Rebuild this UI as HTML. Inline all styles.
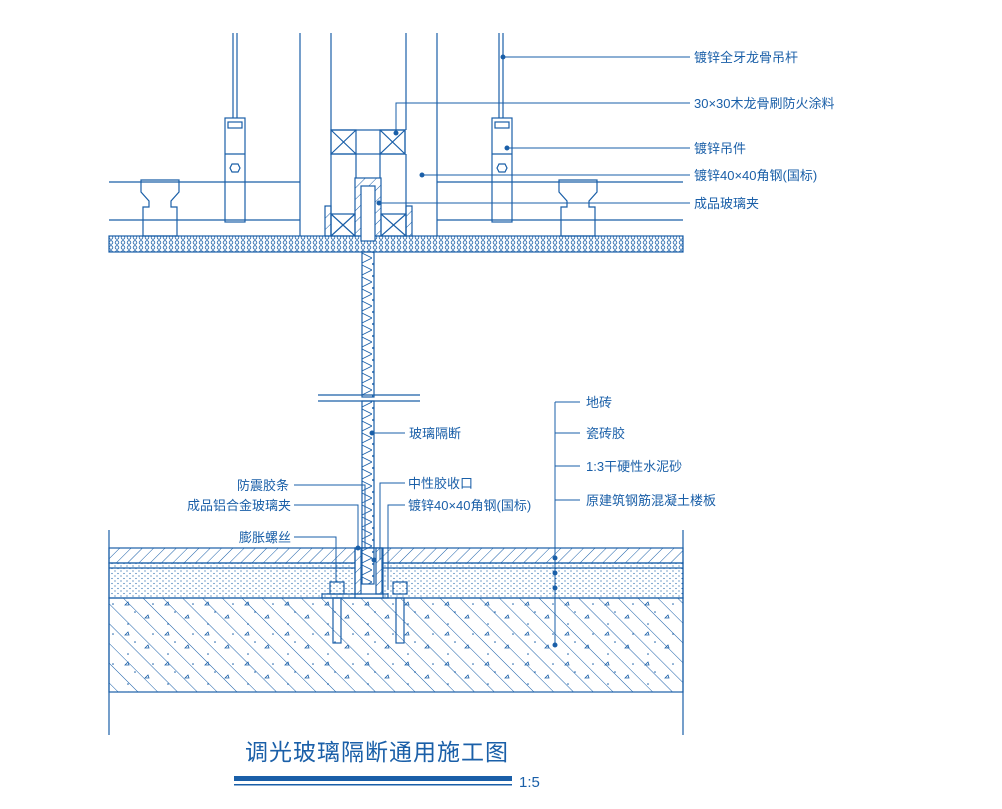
<!DOCTYPE html>
<html><head><meta charset="utf-8"><style>
html,body{margin:0;padding:0;background:#fff}
svg{display:block}
text{font-family:"Liberation Sans","Noto Sans CJK SC",sans-serif;fill:#1a5fa8;font-size:13px}
</style></head><body>
<svg width="1002" height="809" viewBox="0 0 1002 809" xmlns="http://www.w3.org/2000/svg">
<defs>
<pattern id="h45" width="8" height="8" patternUnits="userSpaceOnUse" patternTransform="rotate(45)"><line x1="0" y1="0" x2="0" y2="8" stroke="#1a5fa8" stroke-width="1"/></pattern>
<pattern id="h45b" width="14" height="14" patternUnits="userSpaceOnUse" patternTransform="rotate(-45)"><line x1="0" y1="0" x2="0" y2="14" stroke="#1a5fa8" stroke-width="1"/></pattern>
<pattern id="dots" width="6" height="5" patternUnits="userSpaceOnUse"><circle cx="1" cy="1" r="0.6" fill="#1a5fa8"/><circle cx="4" cy="3.5" r="0.6" fill="#1a5fa8"/></pattern>
<pattern id="cdots" width="40" height="30" patternUnits="userSpaceOnUse"><path d="M5 5l3 -3l1 3zM25 18l3-3l1 3z" fill="none" stroke="#1a5fa8" stroke-width="0.8"/><circle cx="15" cy="12" r="0.8" fill="#1a5fa8"/><circle cx="33" cy="4" r="0.8" fill="#1a5fa8"/><circle cx="8" cy="24" r="0.8" fill="#1a5fa8"/></pattern>
<pattern id="board" width="6" height="5" patternUnits="userSpaceOnUse"><circle cx="3" cy="2.5" r="1.8" fill="none" stroke="#1a5fa8" stroke-width="0.8"/></pattern>
<pattern id="zz" width="12" height="12" patternUnits="userSpaceOnUse"><path d="M0 0L12 6L0 12" fill="none" stroke="#1a5fa8" stroke-width="0.8"/></pattern>
</defs>
<g stroke="#1a5fa8" stroke-width="1.2" fill="none">
<!-- ceiling -->
<line x1="109" y1="182" x2="300" y2="182"/><line x1="437" y1="182" x2="683" y2="182"/>
<line x1="109" y1="220" x2="300" y2="220"/><line x1="437" y1="220" x2="683" y2="220"/>
<rect x="109" y="236" width="574" height="16" fill="url(#board)"/>
<line x1="300" y1="33" x2="300" y2="236"/><line x1="331" y1="33" x2="331" y2="130"/>
<line x1="406" y1="33" x2="406" y2="130"/><line x1="437" y1="33" x2="437" y2="236"/>
<rect x="331" y="130" width="74" height="24"/>
<path d="M331 130h25v24h-25zM331 130l25 24M356 130l-25 24M380 130h25v24h-25zM380 130l25 24M405 130l-25 24"/>
<line x1="331" y1="154" x2="331" y2="236"/><line x1="406" y1="154" x2="406" y2="236"/>
<line x1="356" y1="154" x2="356" y2="178"/><line x1="380" y1="154" x2="380" y2="178"/>
<rect x="355" y="178" width="26" height="58" fill="url(#h45)"/>
<rect x="361" y="186" width="14" height="55" fill="#fff"/>
<rect x="325" y="206" width="6" height="30" fill="url(#h45)"/><rect x="406" y="206" width="6" height="30" fill="url(#h45)"/>
<path d="M331 214h24v22h-24zM331 214l24 22M355 214l-24 22M381 214h25v22h-25zM381 214l25 22M406 214l-25 22"/>
<!-- hangers -->
<line x1="233" y1="33" x2="233" y2="118"/><line x1="237" y1="33" x2="237" y2="118"/>
<rect x="225" y="118" width="20" height="104"/><rect x="228" y="122" width="14" height="6"/>
<line x1="225" y1="154" x2="245" y2="154"/><polygon points="230,168 232,164 238,164 240,168 238,172 232,172"/>
<line x1="499" y1="33" x2="499" y2="118"/><line x1="503" y1="33" x2="503" y2="118"/>
<rect x="492" y="118" width="20" height="104"/><rect x="495" y="122" width="14" height="6"/>
<line x1="492" y1="154" x2="512" y2="154"/><polygon points="497,168 499,164 505,164 507,168 505,172 499,172"/>
<!-- clips -->
<path d="M141 180h38v12l-8 9v6h6v29h-34v-29h6v-6l-8-9z"/>
<path d="M559 180h38v12l-8 9v6h6v29h-34v-29h6v-6l-8-9z"/>
<!-- glass -->
<rect x="362" y="252" width="12" height="145" fill="url(#zz)"/>
<rect x="362" y="401" width="12" height="147" fill="url(#zz)"/>
<line x1="318" y1="395" x2="420" y2="395"/><line x1="318" y1="401" x2="420" y2="401"/>
<!-- floor -->
<line x1="109" y1="530" x2="109" y2="735"/><line x1="683" y1="530" x2="683" y2="735"/>
<rect x="109" y="548" width="574" height="15" fill="url(#h45)"/>
<rect x="109" y="563" width="574" height="35" fill="url(#dots)"/>
<line x1="109" y1="568" x2="683" y2="568"/>
<rect x="109" y="598" width="574" height="94" fill="url(#h45b)"/>
<rect x="109" y="598" width="574" height="94" fill="url(#cdots)" stroke="none"/>
<rect x="355" y="548" width="28" height="50" fill="#fff"/>
<rect x="355" y="548" width="6" height="46" fill="url(#h45)"/><rect x="376" y="548" width="6" height="46" fill="url(#h45)"/>
<rect x="362" y="548" width="12" height="36" fill="url(#zz)"/>
<path d="M322 594h66v4h-66z"/>
<rect x="333" y="598" width="8" height="45"/><rect x="396" y="598" width="8" height="45"/>
<path d="M330 582h14v12h-14zM393 582h14v12h-14z"/>
</g>
<!-- leaders -->
<g stroke="#1a5fa8" stroke-width="1" fill="#1a5fa8">
<line x1="503" y1="57" x2="690" y2="57"/><circle cx="503" cy="57" r="2"/>
<polyline points="396,133 396,103 690,103" fill="none"/><circle cx="396" cy="133" r="2"/>
<line x1="507" y1="148" x2="690" y2="148"/><circle cx="507" cy="148" r="2"/>
<line x1="422" y1="175" x2="690" y2="175"/><circle cx="422" cy="175" r="2"/>
<line x1="379" y1="203" x2="690" y2="203"/><circle cx="379" cy="203" r="2"/>
<line x1="372" y1="433" x2="405" y2="433"/><circle cx="372" cy="433" r="2"/>
<polyline points="294,485 365,485 365,548" fill="none"/>
<polyline points="294,505 358,505 358,548" fill="none"/><circle cx="358" cy="548" r="2"/>
<polyline points="294,537 336,537 336,582" fill="none"/>
<polyline points="405,483 380,483 380,560" fill="none"/><circle cx="374" cy="560" r="2"/>
<polyline points="405,505 388,505 388,590" fill="none"/>
<line x1="555" y1="402" x2="555" y2="645"/>
<line x1="555" y1="402" x2="580" y2="402"/><line x1="555" y1="433" x2="580" y2="433"/>
<line x1="555" y1="466" x2="580" y2="466"/><line x1="555" y1="500" x2="580" y2="500"/>
<circle cx="555" cy="558" r="2"/><circle cx="555" cy="573" r="2"/><circle cx="555" cy="588" r="2"/><circle cx="555" cy="645" r="2"/>
</g>
<text x="694" y="62">镀锌全牙龙骨吊杆</text>
<text x="694" y="108">30×30木龙骨刷防火涂料</text>
<text x="694" y="153">镀锌吊件</text>
<text x="694" y="180">镀锌40×40角钢(国标)</text>
<text x="694" y="208">成品玻璃夹</text>
<text x="409" y="438">玻璃隔断</text>
<text x="237" y="490">防震胶条</text>
<text x="187" y="510">成品铝合金玻璃夹</text>
<text x="239" y="542">膨胀螺丝</text>
<text x="408" y="488">中性胶收口</text>
<text x="408" y="510">镀锌40×40角钢(国标)</text>
<text x="586" y="407">地砖</text>
<text x="586" y="438">瓷砖胶</text>
<text x="586" y="471">1:3干硬性水泥砂</text>
<text x="586" y="505">原建筑钢筋混凝土楼板</text>
<text x="245" y="760" style="font-size:23px;letter-spacing:1px">调光玻璃隔断通用施工图</text>
<rect x="234" y="776" width="278" height="5" fill="#1a5fa8"/>
<rect x="234" y="784" width="278" height="1.5" fill="#1a5fa8"/>
<text x="519" y="787" style="font-size:15px">1:5</text>
</svg>
</body></html>
